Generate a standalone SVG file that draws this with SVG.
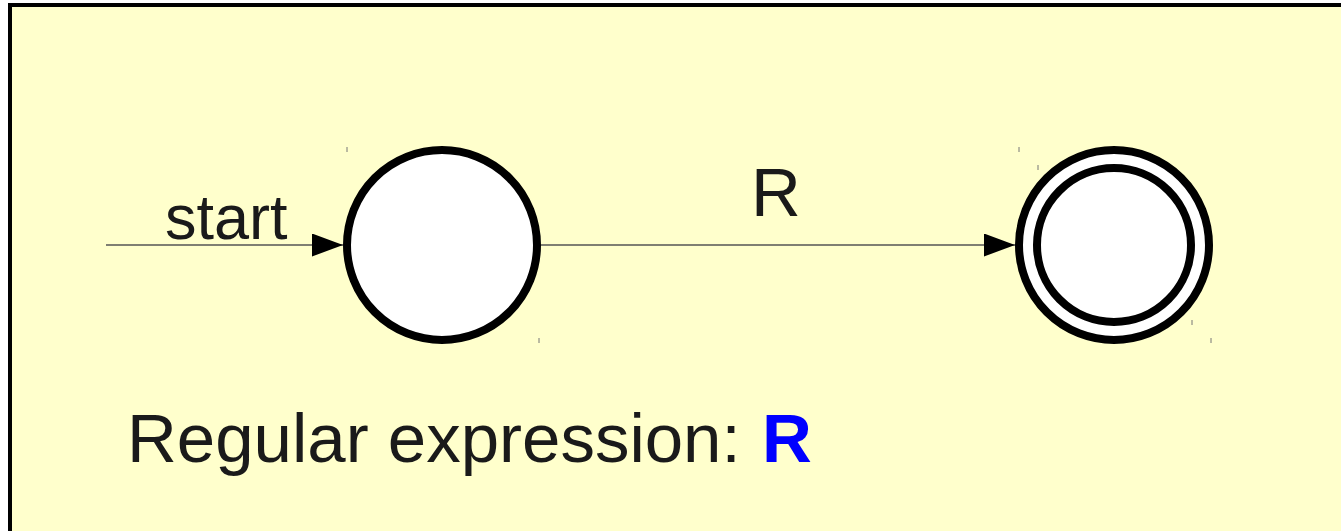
<svg xmlns="http://www.w3.org/2000/svg" width="1341" height="531" viewBox="0 0 1341 531">
<defs>
<style>
.bg{fill:#ffffcc;stroke:#000;stroke-width:4}
.state{fill:#fff;stroke:#000;stroke-width:8}
.edge{fill:none;stroke:#555;stroke-width:1.3}
.tick{stroke:#777;stroke-width:1}
.lbl{font-family:"Liberation Sans",Arial,sans-serif;fill:#1a1a1a}
</style>
<marker id="arr" viewBox="0 0 31 23" refX="31" refY="11.5" markerWidth="31" markerHeight="23" markerUnits="userSpaceOnUse" orient="auto">
<path d="M0,0 L31,11.5 L0,23 Z" fill="#000"/>
</marker>
</defs>
<rect x="10" y="5" width="1400" height="600" class="bg"/>
<g id="connectors">
<line x1="106" y1="245" x2="343" y2="245" class="edge" marker-end="url(#arr)"/>
<line x1="541" y1="245" x2="1015" y2="245" class="edge" marker-end="url(#arr)"/>
<text x="165" y="239" class="lbl" font-size="63">start</text>
<text x="751" y="216" class="lbl" font-size="69">R</text>
</g>
<g id="q0">
<circle cx="442" cy="245" r="95" class="state"/>
<line x1="347" y1="147" x2="347" y2="152" class="tick"/>
<line x1="539" y1="338" x2="539" y2="343" class="tick"/>
</g>
<g id="q1">
<circle cx="1114" cy="245" r="95" class="state"/>
<circle cx="1114" cy="245" r="77" class="state"/>
<line x1="1019" y1="147" x2="1019" y2="152" class="tick"/>
<line x1="1038" y1="165" x2="1038" y2="170" class="tick"/>
<line x1="1192" y1="320" x2="1192" y2="325" class="tick"/>
<line x1="1211" y1="338" x2="1211" y2="343" class="tick"/>
</g>
<g id="caption">
<text x="127" y="462" class="lbl" font-size="69">Regular expression: <tspan x="762" fill="#0000ff" font-weight="bold">R</tspan></text>
</g>
</svg>
